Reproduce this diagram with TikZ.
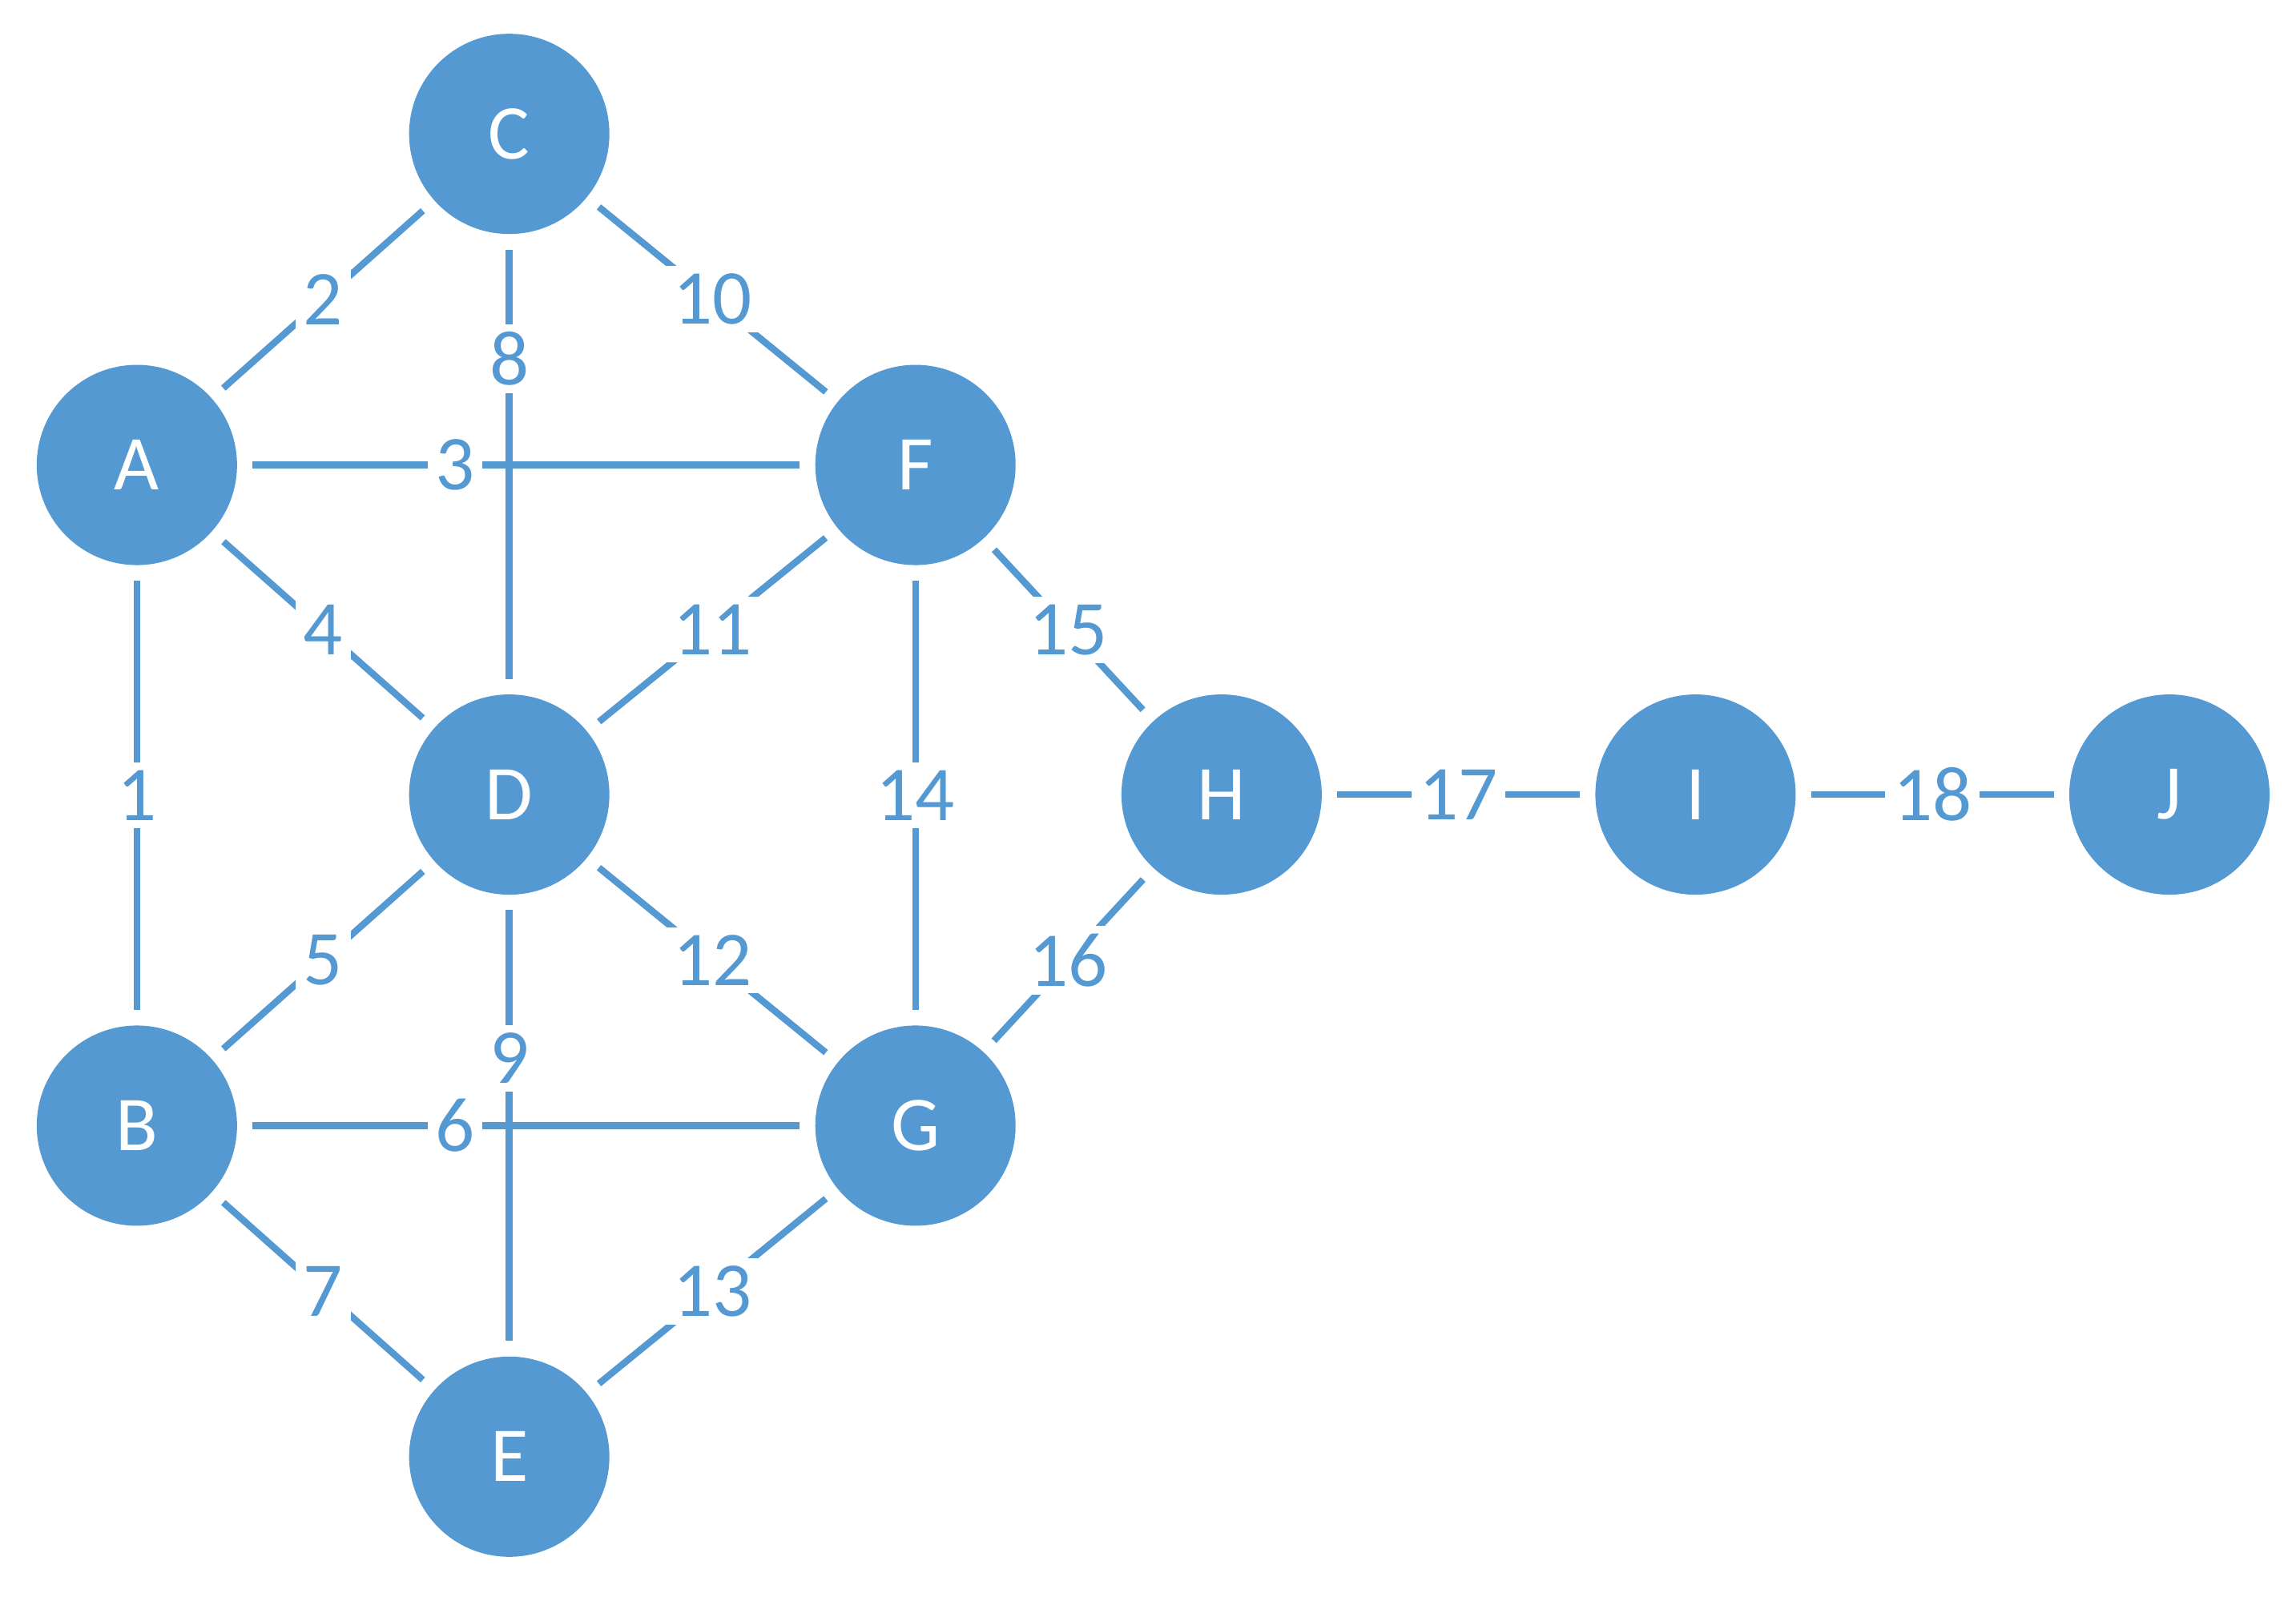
\documentclass[tikz,border=0pt]{standalone}
\usepackage{fontspec}
\setmainfont{Carlito}
\definecolor{nb}{HTML}{5599D3}
\begin{document}
\begin{tikzpicture}[x=0.01cm,y=-0.01cm,
  vtx/.style={circle,fill=nb,minimum size=1.36cm,inner sep=0,text=white,font=\fontsize{15}{15}\selectfont,outer sep=3pt},
  edge/.style={draw=nb,line width=1.3pt},
  lbl/.style={fill=white,text=nb,inner sep=1.5pt,font=\fontsize{15}{15}\selectfont}]
\useasboundingbox (0,0) rectangle (1560,1085);
\node[vtx] (A) at (93,316) {A};
\node[vtx] (B) at (93,765) {B};
\node[vtx] (C) at (346,91) {C};
\node[vtx] (D) at (346,540) {D};
\node[vtx] (E) at (346,990) {E};
\node[vtx] (F) at (622,316) {F};
\node[vtx] (G) at (622,765) {G};
\node[vtx] (H) at (830,540) {H};
\node[vtx] (I) at (1152,540) {I};
\node[vtx] (J) at (1474,540) {J};
\draw[edge] (C) -- node[lbl,pos=0.254] {8} (D);
\draw[edge] (D) -- node[lbl,pos=0.344] {9} (E);
\draw[edge] (A) -- node[lbl,pos=0.37] {3} (F);
\draw[edge] (B) -- node[lbl,pos=0.37] {6} (G);
\draw[edge] (A) -- node[lbl] {1} (B);
\draw[edge] (A) -- node[lbl] {2} (C);
\draw[edge] (A) -- node[lbl] {4} (D);
\draw[edge] (B) -- node[lbl] {5} (D);
\draw[edge] (B) -- node[lbl] {7} (E);
\draw[edge] (C) -- node[lbl] {10} (F);
\draw[edge] (D) -- node[lbl] {11} (F);
\draw[edge] (D) -- node[lbl] {12} (G);
\draw[edge] (E) -- node[lbl] {13} (G);
\draw[edge] (F) -- node[lbl] {14} (G);
\draw[edge] (F) -- node[lbl] {15} (H);
\draw[edge] (G) -- node[lbl] {16} (H);
\draw[edge] (H) -- node[lbl] {17} (I);
\draw[edge] (I) -- node[lbl] {18} (J);
\end{tikzpicture}
\end{document}
